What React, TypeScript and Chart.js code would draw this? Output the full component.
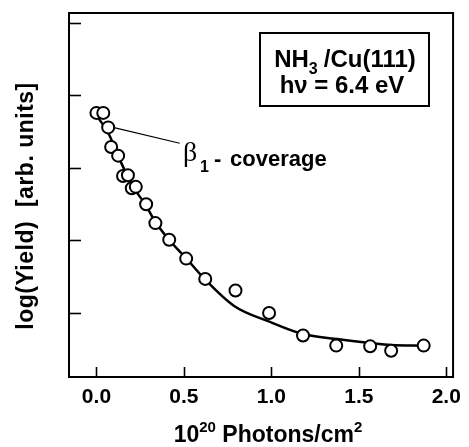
import { useEffect, useRef } from 'react';
import { Chart, registerables } from 'chart.js';

Chart.register(...registerables);

// Measured yield vs. accumulated photon dose (10^20 photons/cm^2)
const DOSE = [0.0, 0.039, 0.067, 0.084, 0.124, 0.152, 0.18, 0.202, 0.225, 0.284, 0.337, 0.416, 0.513, 0.622, 0.795, 0.987, 1.181, 1.371, 1.565, 1.685, 1.871];
const LOG_YIELD = [3.76, 3.76, 3.56, 3.29, 3.17, 2.89, 2.9, 2.72, 2.74, 2.5, 2.24, 2.01, 1.75, 1.47, 1.31, 1.0, 0.69, 0.55, 0.54, 0.48, 0.55];

// Fitted decay curve
const FIT_DOSE = [0.0, 0.073, 0.129, 0.202, 0.281, 0.337, 0.416, 0.511, 0.618, 0.787, 0.989, 1.18, 1.376, 1.567, 1.685, 1.871];
const FIT_LOG_YIELD = [3.73, 3.455, 3.14, 2.77, 2.49, 2.255, 2.007, 1.76, 1.47, 1.097, 0.88, 0.71, 0.64, 0.586, 0.559, 0.549];

const X_TICKS = [0, 0.5, 1.0, 1.5, 2.0];
const Y_TICKS = [1, 2, 3, 4, 5];
const X_MIN = -0.157;
const X_MAX = 2.039;
const Y_MIN = 0.117;
const Y_MAX = 5.138;

// Leader line from the beta_1 label to the curve
const LEADER_FROM = { x: 0.101, y: 3.556 };
const LEADER_TO = { x: 0.476, y: 3.341 };

const SANS = '"Liberation Sans", Arial, Helvetica, sans-serif';
const SERIF = '"Liberation Serif", "Times New Roman", serif';

const framePlugin = {
  id: 'frame',
  afterDraw(chart: any) {
    const ctx = chart.ctx as CanvasRenderingContext2D;
    const { left, right, top, bottom } = chart.chartArea;
    const xs = chart.scales.x;
    const ys = chart.scales.y;
    ctx.save();
    ctx.strokeStyle = '#000';
    ctx.fillStyle = '#000';

    // plot frame
    ctx.lineWidth = 2;
    ctx.strokeRect(left, top, right - left, bottom - top);

    // inward tick marks
    ctx.lineWidth = 1.6;
    for (const v of Y_TICKS) {
      const py = Math.round(ys.getPixelForValue(v)) + 0.5;
      ctx.beginPath();
      ctx.moveTo(left, py);
      ctx.lineTo(left + 12, py);
      ctx.stroke();
    }
    for (const v of X_TICKS) {
      const px = Math.round(xs.getPixelForValue(v)) + 0.5;
      ctx.beginPath();
      ctx.moveTo(px, bottom);
      ctx.lineTo(px, bottom - 10);
      ctx.stroke();
    }

    // leader line + beta label
    ctx.lineWidth = 1.2;
    ctx.beginPath();
    ctx.moveTo(xs.getPixelForValue(LEADER_FROM.x), ys.getPixelForValue(LEADER_FROM.y));
    ctx.lineTo(xs.getPixelForValue(LEADER_TO.x), ys.getPixelForValue(LEADER_TO.y));
    ctx.stroke();

    ctx.textAlign = 'left';
    ctx.textBaseline = 'alphabetic';
    ctx.font = `28px ${SERIF}`;
    ctx.fillText('β', 183, 161);
    ctx.font = `bold 16px ${SANS}`;
    ctx.fillText('1', 200, 172);
    ctx.font = `bold 22px ${SANS}`;
    ctx.fillText('-', 214, 166);
    ctx.fillText('coverage', 230, 166);

    // legend box
    ctx.lineWidth = 2;
    ctx.strokeRect(260, 33, 169, 73);
    const l1a = 'NH';
    const l1b = '/Cu(111)';
    ctx.font = `bold 24px ${SANS}`;
    const wA = ctx.measureText(l1a).width;
    const wB = ctx.measureText(l1b).width;
    ctx.font = `bold 16px ${SANS}`;
    const wS = ctx.measureText('3').width;
    const total = wA + wS + 6 + wB;
    const x0 = 345 - total / 2;
    ctx.font = `bold 24px ${SANS}`;
    ctx.fillText(l1a, x0, 67);
    ctx.font = `bold 16px ${SANS}`;
    ctx.fillText('3', x0 + wA, 74);
    ctx.font = `bold 24px ${SANS}`;
    ctx.fillText(l1b, x0 + wA + wS + 6, 67);
    ctx.textAlign = 'center';
    ctx.fillText('hν = 6.4 eV', 342, 93);

    // x axis title
    ctx.textAlign = 'left';
    const parts: [string, number, number][] = [
      ['10', 23, 0],
      ['20', 15, -10],
      [' Photons/cm', 23, 0],
      ['2', 15, -10],
    ];
    let tw = 0;
    for (const [t, s] of parts) {
      ctx.font = `bold ${s}px ${SANS}`;
      tw += ctx.measureText(t).width;
    }
    let cx = 268 - tw / 2;
    for (const [t, s, dy] of parts) {
      ctx.font = `bold ${s}px ${SANS}`;
      ctx.fillText(t, cx, 442 + dy);
      cx += ctx.measureText(t).width;
    }

    // y axis title
    ctx.translate(27, 206);
    ctx.rotate(-Math.PI / 2);
    ctx.textAlign = 'center';
    ctx.textBaseline = 'middle';
    ctx.font = `bold 23px ${SANS}`;
    (ctx as any).letterSpacing = '0.5px';
    ctx.fillText('log(Yield)  [arb. units]', 0, 0);
    ctx.restore();
  },
};

export default function App() {
  const canvasRef = useRef<HTMLCanvasElement | null>(null);

  useEffect(() => {
    document.body.style.margin = '0';
    const canvas = canvasRef.current;
    if (!canvas) return;
    const chart = new Chart(canvas, {
      type: 'line',
      data: {
        datasets: [
          {
            label: 'fit',
            data: FIT_DOSE.map((x, i) => ({ x, y: FIT_LOG_YIELD[i] })),
            borderColor: '#000',
            borderWidth: 2.5,
            pointRadius: 0,
            fill: false,
            cubicInterpolationMode: 'monotone',
            order: 2,
          },
          {
            label: 'data',
            data: DOSE.map((x, i) => ({ x, y: LOG_YIELD[i] })),
            showLine: false,
            pointRadius: 6,
            pointBorderWidth: 2,
            pointBackgroundColor: '#fff',
            pointBorderColor: '#000',
            order: 1,
          },
        ],
      },
      options: {
        animation: false,
        responsive: true,
        maintainAspectRatio: false,
        events: [],
        layout: { padding: { left: 69, top: 13, right: 9, bottom: 0 }, autoPadding: false },
        plugins: { legend: { display: false }, tooltip: { enabled: false } },
        scales: {
          x: {
            type: 'linear',
            min: X_MIN,
            max: X_MAX,
            grid: { display: false, drawTicks: false },
            border: { display: false },
            afterBuildTicks: (s: any) => {
              s.ticks = X_TICKS.map((value) => ({ value }));
            },
            afterFit: (s: any) => {
              s.height = 70;
            },
            ticks: {
              autoSkip: false,
              maxRotation: 0,
              padding: 8,
              color: '#000',
              font: { family: SANS, size: 21, weight: 'bold' },
              callback: (v: any) => Number(v).toFixed(1),
            },
          },
          y: {
            type: 'linear',
            display: false,
            min: Y_MIN,
            max: Y_MAX,
          },
        },
      },
      plugins: [framePlugin],
    } as any);
    return () => chart.destroy();
  }, []);

  return (
    <div style={{ position: 'relative', width: 469, height: 447, background: '#fff' }}>
      <canvas ref={canvasRef} />
    </div>
  );
}
